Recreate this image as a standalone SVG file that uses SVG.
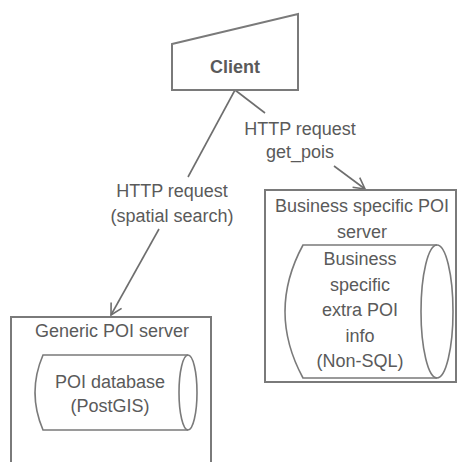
<svg xmlns="http://www.w3.org/2000/svg" width="458" height="462" viewBox="0 0 458 462">
  <defs>
    <style>
      .shape { fill: #ffffff; stroke: #7a7a7a; stroke-width: 2; }
      .cyl { fill: none; stroke: #7a7a7a; stroke-width: 1.6; }
      .edge { fill: none; stroke: #6e6e6e; stroke-width: 1.6; }
      .lbl { font-family: "Liberation Sans", Arial, sans-serif; font-size: 18px; fill: #5a5a5a; text-anchor: middle; }
      .bold { font-weight: bold; }
    </style>
    <marker id="vee" markerWidth="14" markerHeight="14" refX="12" refY="7" orient="auto" markerUnits="userSpaceOnUse">
      <path d="M1,1 L12,7 L1,13" fill="none" stroke="#6e6e6e" stroke-width="1.6"/>
    </marker>
  </defs>
  <rect width="458" height="462" fill="#ffffff"/>

  <g id="connectors">
    <line class="edge" x1="235" y1="90" x2="188" y2="177"/>
    <line class="edge" x1="159" y1="229" x2="111" y2="315" marker-end="url(#vee)"/>
    <line class="edge" x1="235" y1="90" x2="265" y2="113"/>
    <line class="edge" x1="334" y1="166" x2="365" y2="189" marker-end="url(#vee)"/>
    <text class="lbl" x="172" y="197">HTTP request</text>
    <text class="lbl" x="172" y="222">(spatial search)</text>
    <text class="lbl" x="300" y="135">HTTP request</text>
    <text class="lbl" x="300" y="158">get_pois</text>
  </g>

  <g id="client">
    <polygon class="shape" points="172,44 298,14 298,90 172,90"/>
    <text class="lbl bold" x="235" y="73">Client</text>
  </g>

  <g id="generic-poi-server">
    <rect class="shape" x="11" y="317" width="200" height="150"/>
    <text class="lbl" x="112" y="337">Generic POI server</text>
  </g>

  <g id="poi-database">
    <path class="cyl" d="M188,355 L43,355 Q27,392.5 43,430 L188,430"/>
    <ellipse class="cyl" cx="188" cy="392.5" rx="9" ry="37.5"/>
    <text class="lbl" x="110" y="388">POI database</text>
    <text class="lbl" x="110" y="412">(PostGIS)</text>
  </g>

  <g id="business-poi-server">
    <rect class="shape" x="265" y="190" width="191" height="192"/>
    <text class="lbl" x="362" y="212">Business specific POI</text>
    <text class="lbl" x="362" y="238">server</text>
  </g>

  <g id="business-extra-info">
    <path class="cyl" d="M437,245 L303,245 Q267,311.5 303,378 L437,378"/>
    <ellipse class="cyl" cx="437" cy="311.5" rx="16" ry="66.5"/>
    <text class="lbl" x="360" y="265">Business</text>
    <text class="lbl" x="360" y="291">specific</text>
    <text class="lbl" x="360" y="316">extra POI</text>
    <text class="lbl" x="360" y="342">info</text>
    <text class="lbl" x="360" y="367">(Non-SQL)</text>
  </g>
</svg>
